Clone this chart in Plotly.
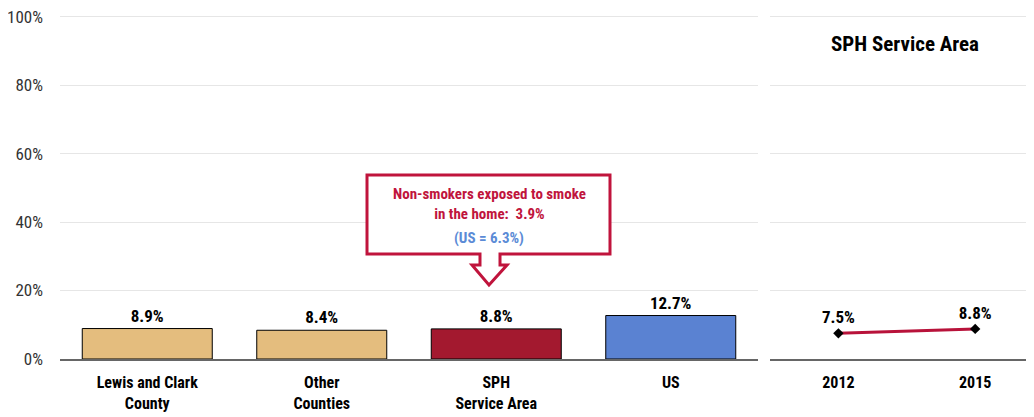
import plotly.graph_objects as go

categories = ["Lewis and Clark<br>County", "Other<br>Counties", "SPH<br>Service Area", "US"]
values = [8.9, 8.4, 8.8, 12.7]
bar_colors = ["#E4BD7E", "#E4BD7E", "#A3192F", "#5A82D2"]

years = ["2012", "2015"]
trend = [7.5, 8.8]

y_ticks = [0, 20, 40, 60, 80, 100]
y_tick_labels = ["0%", "20%", "40%", "60%", "80%", "100%"]

callout_main = "Non-smokers exposed to smoke<br>in the home:  3.9%"
callout_us = "(US = 6.3%)"
panel_title = "SPH Service Area"

FONT = "Roboto Condensed, Liberation Sans Narrow, Arial Narrow, Arial"
OFF = 8  # page body offset
W, H = 1034 - OFF, 417 - OFF
ML, MR, MT, MB = 60 - OFF, 0, 15 - OFF, 58
PW, PH = W - ML - MR, H - MT - MB

def px(x):  # screen pixel -> paper
    return (x - OFF - ML) / PW

def py(y):
    return 1 - (y - OFF - MT) / PH

fig = go.Figure()
fig.add_trace(go.Bar(
    x=categories, y=values, marker=dict(color=bar_colors, line=dict(color="black", width=1)),
    text=[f"{v:.1f}%" for v in values], textposition="outside",
    textfont=dict(family=FONT, size=17, color="black", weight="bold"),
    cliponaxis=False, width=0.745, xaxis="x", yaxis="y", showlegend=False,
))
fig.add_trace(go.Scatter(
    x=years, y=trend, mode="lines+markers+text",
    line=dict(color="#B8123A", width=3),
    marker=dict(symbol="diamond", size=8, color="black"),
    text=[f"{v:.1f}%" for v in trend], textposition="top center",
    textfont=dict(family=FONT, size=17, color="black", weight="bold"),
    cliponaxis=False, xaxis="x2", yaxis="y2", showlegend=False,
))

grid = "#E6E6E6"
fig.update_layout(
    width=W, height=H, margin=dict(l=ML, r=MR, t=MT, b=MB),
    plot_bgcolor="white", paper_bgcolor="white",
    xaxis=dict(domain=[0, px(758)], type="category", showgrid=False,
               showline=True, linecolor="#666666", linewidth=2, ticks="",
               tickfont=dict(family=FONT, size=16, color="black", weight="bold"),
               ticklabelstandoff=8, range=[-0.5, 3.5]),
    yaxis=dict(range=[0, 100.5], tickvals=y_ticks, ticktext=y_tick_labels,
               showgrid=True, gridcolor=grid, gridwidth=1, zeroline=False,
               tickfont=dict(family=FONT, size=17, color="#333333"), ticks="",
               ticklabelstandoff=16, ticklabeloverflow="allow"),
    xaxis2=dict(domain=[px(770), 1], type="category", showgrid=False, anchor="y2",
                showline=True, linecolor="#666666", linewidth=2, ticks="",
                tickfont=dict(family=FONT, size=16, color="black", weight="bold"),
                ticklabelstandoff=8, range=[-0.5, 1.43]),
    yaxis2=dict(range=[0, 100.5], tickvals=y_ticks, showticklabels=False, anchor="x2",
                showgrid=True, gridcolor=grid, gridwidth=1, zeroline=False),
)

# Right panel title
fig.add_annotation(text=panel_title, xref="paper", yref="paper", x=px(905), y=py(44),
                   xanchor="center", yanchor="middle", showarrow=False,
                   font=dict(family=FONT, size=21, color="black", weight="bold"))

# Callout box with down arrow
bx0, bx1, by0, by1 = 367, 610, 175, 254
sx0, sx1, hx0, hx1, hy, tx, ty = 480, 500, 472, 507, 265, 489, 285
pts = [(bx0, by0), (bx1, by0), (bx1, by1), (sx1, by1), (sx1, hy), (hx1, hy), (tx, ty),
       (hx0, hy), (sx0, hy), (sx0, by1), (bx0, by1)]
path = "M " + " L ".join(f"{px(x):.5f},{py(y):.5f}" for x, y in pts) + " Z"
fig.add_shape(type="path", path=path, xref="paper", yref="paper",
              line=dict(color="#C0143C", width=3), fillcolor="white", layer="above")
fig.add_annotation(text=callout_main, xref="paper", yref="paper", x=px(489), y=py(204),
                   xanchor="center", yanchor="middle", showarrow=False,
                   font=dict(family=FONT, size=15, color="#C0143C", weight="bold"))
fig.add_annotation(text=callout_us, xref="paper", yref="paper", x=px(489), y=py(238),
                   xanchor="center", yanchor="middle", showarrow=False,
                   font=dict(family=FONT, size=15, color="#5B8BD6", weight="bold"))

fig.write_html("out.html")
